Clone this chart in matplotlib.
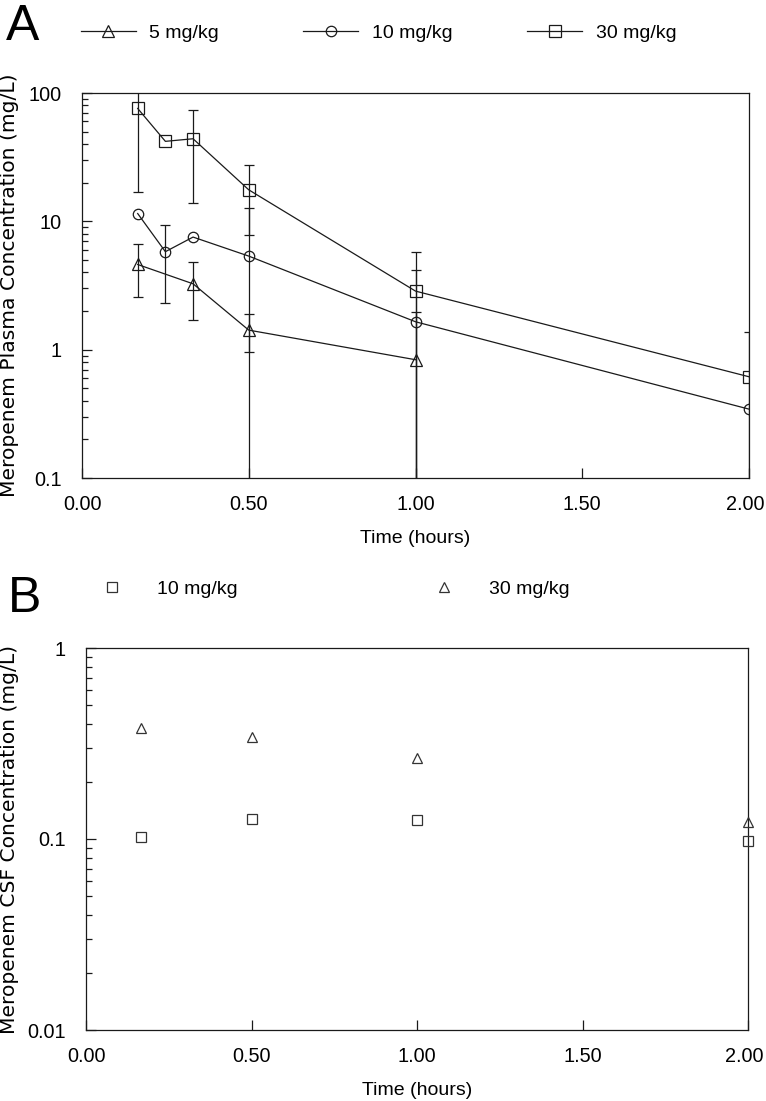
import numpy as np
import matplotlib
matplotlib.use("Agg")
import matplotlib.pyplot as plt
from matplotlib.lines import Line2D
from matplotlib import font_manager as fm
from matplotlib import transforms as mtrans
from matplotlib.ticker import FixedLocator, FixedFormatter, LogLocator, NullFormatter

# ---------------- data ----------------
# Panel A: plasma concentrations (mg/L)
times_5 = [0.167, 0.333, 0.5, 1.0]
conc_5 = [4.61, 3.26, 1.42, 0.835]
sd_5 = [2.05, 1.55, 0.46, 1.12]

times_10 = [0.167, 0.25, 0.333, 0.5, 1.0, 2.0]
conc_10 = [11.5, 5.8, 7.54, 5.36, 1.65, 0.344]
sd_10 = [0.0, 3.5, 0.0, 7.44, 2.49, 0.0]

times_30 = [0.167, 0.25, 0.333, 0.5, 1.0, 2.0]
conc_30 = [75.8, 42.0, 44.0, 17.6, 2.86, 0.615]
sd_30 = [58.9, 0.0, 30.0, 9.8, 2.9, 0.75]

labels_a = ["5 mg/kg", "10 mg/kg", "30 mg/kg"]
markers_a = ["^", "o", "s"]

# Panel B: CSF concentrations (mg/L)
times_csf = [0.167, 0.5, 1.0, 2.0]
csf_10 = [0.103, 0.127, 0.126, 0.0976]
csf_30 = [0.38, 0.343, 0.265, 0.123]
labels_b = ["10 mg/kg", "30 mg/kg"]
markers_b = ["s", "^"]

xticks = [0.0, 0.5, 1.0, 1.5, 2.0]
xticklabels = ["0.00", "0.50", "1.00", "1.50", "2.00"]
yticks_a = [0.1, 1, 10, 100]
yticklabels_a = ["0.1", "1", "10", "100"]
yticks_b = [0.01, 0.1, 1]
yticklabels_b = ["0.01", "0.1", "1"]

# ---------------- style ----------------
names = {f.name for f in fm.fontManager.ttflist}
sans = "Liberation Sans" if "Liberation Sans" in names else "DejaVu Sans"
letter_font = "Liberation Sans Narrow" if "Liberation Sans Narrow" in names else sans
plt.rcParams["font.family"] = [sans, "DejaVu Sans"]

W, H = 766, 1101
fig = plt.figure(figsize=(W / 100, H / 100), dpi=100)

INK = "#1a1a1a"
LW = 0.9
TICK_FS = 14.3
LEG_FS = 14
YLAB_FS = 14.6


def fx(px):
    return px / W


def fy(py):
    return 1 - py / H


def style_axes(ax, ylim, yticks, yticklabels, ylabel, ylabel_x):
    ax.set_yscale("log")
    ax.set_xlim(0, 2)
    ax.set_ylim(*ylim)
    for s in ax.spines.values():
        s.set_linewidth(LW)
        s.set_color(INK)
    ax.xaxis.set_major_locator(FixedLocator(xticks))
    ax.xaxis.set_major_formatter(FixedFormatter(xticklabels))
    ax.yaxis.set_major_locator(FixedLocator(yticks))
    ax.yaxis.set_major_formatter(FixedFormatter(yticklabels))
    ax.yaxis.set_minor_locator(LogLocator(base=10, subs=np.arange(2, 10)))
    ax.yaxis.set_minor_formatter(NullFormatter())
    ax.tick_params(axis="both", which="major", direction="in", length=7,
                   width=LW, color=INK, labelsize=TICK_FS, labelcolor="black")
    ax.tick_params(axis="y", which="major", pad=14.5)
    ax.tick_params(axis="x", which="major", pad=12.5)
    ax.tick_params(axis="y", which="minor", direction="in", length=4.2,
                   width=LW, color=INK)
    ax.tick_params(top=False, right=False, which="both")
    ax.set_xlabel("Time (hours)", fontsize=LEG_FS)
    ax.xaxis.set_label_coords(0.5, -0.135)
    ax.xaxis.label.set_va("top")
    ax.set_ylabel(ylabel, fontsize=YLAB_FS, family="DejaVu Sans")
    ax.yaxis.set_label_coords(ylabel_x, 0.5)


def nudge_last_xlabel(ax, dx_px):
    fig.canvas.draw()
    lab = ax.get_xticklabels()[-1]
    off = mtrans.ScaledTranslation(dx_px / 100, 0, fig.dpi_scale_trans)
    lab.set_transform(lab.get_transform() + off)


# ---------------- Panel A ----------------
axA = fig.add_axes([fx(82), fy(478), fx(749) - fx(82), (478 - 93) / H])
series_a = [(times_5, conc_5, sd_5), (times_10, conc_10, sd_10), (times_30, conc_30, sd_30)]
for (t, c, e), m in zip(series_a, markers_a):
    t = np.asarray(t)
    c = np.asarray(c)
    e = np.asarray(e)
    mask = e > 0
    axA.errorbar(t[mask], c[mask], yerr=e[mask], fmt="none", ecolor=INK,
                 elinewidth=LW, capsize=3.4, capthick=LW, zorder=2)
    axA.plot(t, c, color=INK, lw=LW, marker=m, markersize=8 if m != "o" else 7.5,
             markerfacecolor="none", markeredgecolor=INK, markeredgewidth=LW, zorder=3)
style_axes(axA, (0.1, 100), yticks_a, yticklabels_a,
           "Meropenem Plasma Concentration (mg/L)", (19 - 82) / 667)

# legend A (one entry per legend for exact spacing)
leg_a_x = [80.6, 303.0, 527.0]
for lab, m, x0 in zip(labels_a, markers_a, leg_a_x):
    h = Line2D([], [], color=INK, lw=LW, marker=m, markersize=8 if m != "o" else 7.5,
               markerfacecolor="none", markeredgecolor=INK, markeredgewidth=LW)
    fig.legend([h], [lab], loc="center left", bbox_to_anchor=(fx(x0), fy(33)),
               frameon=False, fontsize=LEG_FS, handlelength=2.84, handletextpad=0.7,
               borderpad=0, borderaxespad=0, numpoints=1)

fig.text(fx(6), fy(40), "A", fontsize=36, family=letter_font, ha="left",
         va="baseline", color="black")

# ---------------- Panel B ----------------
axB = fig.add_axes([fx(86), fy(1030), fx(748) - fx(86), (1030 - 648) / H])
for vals, m in zip([csf_10, csf_30], markers_b):
    axB.plot(times_csf, vals, linestyle="none", marker=m, markersize=7.4,
             markerfacecolor="none", markeredgecolor="#333333", markeredgewidth=LW,
             zorder=3, clip_on=False)
style_axes(axB, (0.01, 1), yticks_b, yticklabels_b,
           "Meropenem CSF Concentration (mg/L)", (19 - 86) / 662)

leg_b_x = [93.0, 424.2]
for lab, m, x0 in zip(labels_b, markers_b, leg_b_x):
    h = Line2D([], [], linestyle="none", marker=m, markersize=7.2,
               markerfacecolor="none", markeredgecolor="#333333", markeredgewidth=LW)
    fig.legend([h], [lab], loc="center left", bbox_to_anchor=(fx(x0), fy(589)),
               frameon=False, fontsize=LEG_FS, handlelength=2.0, handletextpad=1.31,
               borderpad=0, borderaxespad=0, numpoints=1)

fig.text(fx(8), fy(612), "B", fontsize=36, family=letter_font, ha="left",
         va="baseline", color="black")

nudge_last_xlabel(axA, -4)
nudge_last_xlabel(axB, -4)

fig.savefig("out.png", dpi=100)
